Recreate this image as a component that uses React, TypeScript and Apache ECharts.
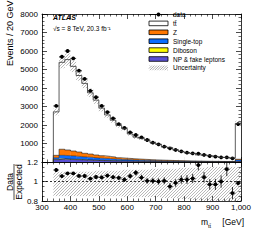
import React, { useEffect, useRef } from "react";
import * as echarts from "echarts";

// ---- data (20 GeV bins, last bin includes overflow) ----
const BIN_LO = [340, 360, 380, 400, 420, 440, 460, 480, 500, 520, 540, 560, 580, 600, 620, 640, 660, 680, 700, 720, 740, 760, 780, 800, 820, 840, 860, 880, 900, 920, 940, 960, 980];
const BIN_WIDTH = 20;
const DATA = [3030, 5690, 6000, 5600, 4940, 4490, 3850, 3500, 3030, 2700, 2360, 2050, 1840, 1600, 1460, 1330, 1190, 1045, 955, 830, 740, 650, 575, 505, 470, 450, 380, 325, 290, 250, 250, 200, 2050];
const TTBAR = [2350, 4700, 4885, 4575, 4135, 3780, 3310, 2965, 2570, 2240, 1990, 1745, 1600, 1330, 1175, 1130, 1050, 920, 850, 730, 695, 585, 497, 435, 402, 337, 321, 297, 265, 219, 194, 202, 1935];
const Z_JETS = [130, 330, 310, 270, 250, 200, 180, 165, 140, 125, 110, 85, 75, 68, 60, 54, 48, 43, 38, 34, 30, 27, 24, 22, 20, 18, 16, 14, 13, 12, 11, 10, 40];
const SINGLE_TOP = [85, 180, 180, 175, 155, 150, 142, 120, 115, 104, 92, 85, 77, 70, 63, 57, 51, 46, 41, 37, 34, 30, 27, 24, 22, 19, 17, 15, 13, 12, 11, 10, 70];
const DIBOSON = [20, 25, 22, 21, 19, 17, 15, 13, 12, 11, 10, 9, 8, 7, 6, 5, 5, 4, 4, 3, 3, 3, 2, 2, 2, 2, 2, 1, 1, 1, 1, 1, 6];
const NP_FAKE = [125, 155, 138, 129, 116, 103, 93, 82, 73, 65, 58, 51, 45, 40, 36, 32, 28, 25, 22, 20, 17, 15, 14, 12, 10, 9, 8, 8, 7, 6, 5, 4, 34];
// relative uncertainty band as drawn in the upper panel
const TOP_UNC = [0.07, 0.06, 0.06, 0.06, 0.06, 0.06, 0.06, 0.06, 0.06, 0.06, 0.06, 0.06, 0.06, 0.06, 0.07, 0.07, 0.07, 0.07, 0.07, 0.07, 0.07, 0.07, 0.08, 0.08, 0.08, 0.08, 0.08, 0.08, 0.08, 0.08, 0.09, 0.09, 0.07];
// ratio-panel uncertainty band
const UNC_UP = [1.10, 1.10, 1.10, 1.10, 1.10, 1.10, 1.10, 1.11, 1.11, 1.11, 1.11, 1.11, 1.12, 1.12, 1.12, 1.12, 1.12, 1.13, 1.13, 1.13, 1.13, 1.13, 1.14, 1.14, 1.14, 1.14, 1.14, 1.15, 1.15, 1.15, 1.15, 1.15, 1.15];
const UNC_DOWN = [0.85, 0.85, 0.85, 0.85, 0.85, 0.85, 0.85, 0.85, 0.85, 0.85, 0.85, 0.85, 0.84, 0.84, 0.84, 0.84, 0.84, 0.84, 0.84, 0.83, 0.83, 0.83, 0.82, 0.82, 0.81, 0.81, 0.80, 0.80, 0.79, 0.79, 0.78, 0.78, 0.78];

const X_MIN = 300, X_MAX = 1000, X_INT = 100;
const Y_MAX = 8000, Y_INT = 1000;
const R_MIN = 0.8, R_MAX = 1.2, R_INT = 0.2;

const LEGEND = [
  { label: "data", kind: "data", color: "#000" },
  { label: "tt\u0304", kind: "box", color: "#ffffff" },
  { label: "Z", kind: "box", color: "#ff7700" },
  { label: "Single-top", kind: "box", color: "#0a6cff" },
  { label: "Diboson", kind: "box", color: "#ffff00" },
  { label: "NP & fake leptons", kind: "box", color: "#5a50d2" },
  { label: "Uncertainty", kind: "hatch", color: "#777" },
];

const FONT = "'Liberation Sans', Arial, Helvetica, sans-serif";

function hatchLines(x0: number, y0: number, x1: number, y1: number, spacing: number, color: string, width: number) {
  const out: any[] = [];
  const cStart = Math.ceil((x0 + y0) / spacing) * spacing;
  for (let c = cStart; c <= x1 + y1; c += spacing) {
    const xa = Math.max(x0, c - y1);
    const xb = Math.min(x1, c - y0);
    if (xb > xa) out.push({ type: "line", shape: { x1: xa, y1: c - xa, x2: xb, y2: c - xb }, style: { stroke: color, lineWidth: width } });
  }
  return out;
}

export default function App() {
  const ref = useRef<HTMLDivElement>(null);
  useEffect(() => {
    if (!ref.current) return;
    const chart = echarts.init(ref.current, undefined, { renderer: "svg" });
    const n = BIN_LO.length;
    const c0 = NP_FAKE.slice();
    const c1 = c0.map((v, i) => v + DIBOSON[i]);
    const c2 = c1.map((v, i) => v + SINGLE_TOP[i]);
    const c3 = c2.map((v, i) => v + Z_JETS[i]);
    const total = c3.map((v, i) => v + TTBAR[i]);
    const zeros = new Array(n).fill(0);

    const layer = (color: string, base: number[], top: number[]) => ({
      type: "custom", xAxisIndex: 0, yAxisIndex: 0, clip: true, silent: true,
      data: BIN_LO.map((lo, i) => [lo, lo + BIN_WIDTH, base[i], top[i]]),
      encode: { x: [0, 1], y: [2, 3] },
      renderItem: (_p: any, api: any) => {
        const a = api.coord([api.value(0), api.value(3)]);
        const b = api.coord([api.value(1), api.value(2)]);
        return { type: "rect", shape: { x: a[0], y: a[1], width: b[0] - a[0] + 0.3, height: b[1] - a[1] }, style: { fill: color } };
      },
    });

    const stepLine = (top: number[], color: string, width: number) => {
      const pts: number[][] = [[BIN_LO[0], 0]];
      BIN_LO.forEach((lo, i) => { pts.push([lo, top[i]]); pts.push([lo + BIN_WIDTH, top[i]]); });
      return {
        type: "line", xAxisIndex: 0, yAxisIndex: 0, data: pts, symbol: "none", silent: true,
        lineStyle: { color, width }, clip: true,
      };
    };

    const band = (xi: number, yi: number, lo: number[], hi: number[], ymin: number, ymax: number) => ({
      type: "custom", xAxisIndex: xi, yAxisIndex: yi, clip: true, silent: true,
      data: BIN_LO.map((b, i) => [b, b + BIN_WIDTH, Math.max(lo[i], ymin), Math.min(hi[i], ymax)]),
      encode: { x: [0, 1], y: [2, 3] },
      renderItem: (_p: any, api: any) => {
        const a = api.coord([api.value(0), api.value(3)]);
        const b = api.coord([api.value(1), api.value(2)]);
        return { type: "group", children: hatchLines(a[0], a[1], b[0], b[1], 3, "#7a7a7a", 0.55) };
      },
    });

    const points = (xi: number, yi: number, vals: number[], errs: number[]) => ({
      type: "custom", xAxisIndex: xi, yAxisIndex: yi, clip: true, silent: true,
      data: BIN_LO.map((b, i) => [b + BIN_WIDTH / 2, vals[i], errs[i]]),
      encode: { x: 0, y: 1 },
      renderItem: (_p: any, api: any) => {
        const x = api.value(0), y = api.value(1), e = api.value(2);
        const c = api.coord([x, y]);
        const l = api.coord([x - BIN_WIDTH / 2, y]);
        const r = api.coord([x + BIN_WIDTH / 2, y]);
        const t = api.coord([x, y + e]);
        const d = api.coord([x, y - e]);
        const st = { stroke: "#000", lineWidth: 0.8 };
        return {
          type: "group", children: [
            { type: "line", shape: { x1: l[0], y1: c[1], x2: r[0], y2: c[1] }, style: st },
            { type: "line", shape: { x1: c[0], y1: t[1], x2: c[0], y2: d[1] }, style: st },
            { type: "circle", shape: { cx: c[0], cy: c[1], r: 1.9 }, style: { fill: "#000" } },
          ],
        };
      },
    });

    const ratio = DATA.map((v, i) => v / total[i]);
    const ratioErr = DATA.map((v, i) => Math.sqrt(v) / total[i]);
    const dataErr = DATA.map((v) => Math.sqrt(v));

    const tickCommon = (labels: boolean, pos: string, grid: number) => ({
      gridIndex: grid, type: "value", position: pos, min: X_MIN, max: X_MAX, interval: X_INT,
      axisLine: { show: true, onZero: false, lineStyle: { color: "#000", width: 0.8 } },
      axisTick: { show: true, inside: true, length: 5, lineStyle: { color: "#000", width: 0.7 } },
      minorTick: { show: true, splitNumber: 5, length: 2.5, lineStyle: { color: "#000", width: 0.6 } },
      splitLine: { show: false },
      axisLabel: { show: labels, color: "#000", fontSize: 8, fontFamily: FONT, margin: 2.5 },
    });

    const yCommon = (grid: number, pos: string, min: number, max: number, interval: number, labels: boolean, fmt: any, minor: number) => ({
      gridIndex: grid, type: "value", position: pos, min, max, interval,
      axisLine: { show: true, onZero: false, lineStyle: { color: "#000", width: 0.8 } },
      axisTick: { show: true, inside: true, length: 5, lineStyle: { color: "#000", width: 0.7 } },
      minorTick: { show: true, splitNumber: minor, length: 2.5, lineStyle: { color: "#000", width: 0.6 } },
      splitLine: { show: false },
      axisLabel: { show: labels, color: "#000", fontSize: 8, fontFamily: FONT, margin: 4, formatter: fmt },
    });

    const legendEls: any[] = [];
    LEGEND.forEach((it, k) => {
      const yc = 14.5 + k * 8.9;
      const x0 = 149, w = 19, h = 4.6;
      if (it.kind === "data") {
        legendEls.push({ type: "line", shape: { x1: x0, y1: yc, x2: x0 + w, y2: yc }, style: { stroke: "#000", lineWidth: 0.8 } });
        legendEls.push({ type: "circle", shape: { cx: x0 + w / 2, cy: yc, r: 1.9 }, style: { fill: "#000" } });
      } else if (it.kind === "box") {
        legendEls.push({ type: "rect", shape: { x: x0, y: yc - h / 2, width: w, height: h }, style: { fill: it.color, stroke: "#000", lineWidth: 0.8 } });
      } else {
        hatchLines(x0, yc - h / 2, x0 + w, yc + h / 2, 2.5, it.color, 0.6).forEach((l) => legendEls.push(l));
      }
      legendEls.push({ type: "text", x: 173, y: yc, style: { text: it.label, fontSize: 6.5, fontFamily: FONT, fill: "#000", textVerticalAlign: "middle", textAlign: "left" } });
    });

    chart.setOption({
      animation: false,
      backgroundColor: "#fff",
      grid: [
        { left: 42, top: 14, width: 199, height: 148 },
        { left: 42, top: 162, width: 199, height: 39 },
      ],
      xAxis: [
        tickCommon(false, "bottom", 0),
        tickCommon(false, "top", 0),
        tickCommon(true, "bottom", 1),
        tickCommon(false, "top", 1),
      ],
      yAxis: [
        yCommon(0, "left", 0, Y_MAX, Y_INT, true, (v: number) => (v === 0 ? "" : String(v)), 5),
        yCommon(0, "right", 0, Y_MAX, Y_INT, false, undefined, 5),
        yCommon(1, "left", R_MIN, R_MAX, R_INT, true, (v: number) => (Math.abs(v - 1) < 1e-6 ? "1" : v.toFixed(1)), 4),
        yCommon(1, "right", R_MIN, R_MAX, R_INT, false, undefined, 4),
      ],
      series: [
        layer("#ffffff", c3, total),
        layer("#ff7700", c2, c3),
        layer("#0a6cff", c1, c2),
        layer("#ffff00", c0, c1),
        layer("#5a50d2", zeros, c0),
        stepLine(c0, "#222", 0.5),
        stepLine(c1, "#222", 0.5),
        stepLine(c2, "#222", 0.5),
        stepLine(c3, "#222", 0.6),
        band(0, 0, total.map((t, i) => t * (1 - TOP_UNC[i])), total.map((t, i) => t * (1 + TOP_UNC[i])), 0, Y_MAX),
        stepLine(total, "#333", 0.8),
        points(0, 0, DATA, dataErr),
        band(2, 2, UNC_DOWN, UNC_UP, R_MIN, R_MAX),
        {
          type: "line", xAxisIndex: 2, yAxisIndex: 2, data: [[X_MIN, 1], [X_MAX, 1]], symbol: "none", silent: true,
          lineStyle: { color: "#000", width: 0.8, type: [2, 2] },
        },
        points(2, 2, ratio, ratioErr),
      ],
      graphic: [
        { type: "text", x: 10, y: 0.5, rotation: Math.PI / 2, style: { text: "Events / 20 GeV", fontSize: 9, fontFamily: FONT, fill: "#000", textAlign: "right", textVerticalAlign: "middle" } },
        { type: "text", x: 9.5, y: 182, rotation: Math.PI / 2, style: { text: "Data", fontSize: 8.5, fontFamily: FONT, fill: "#000", textAlign: "center", textVerticalAlign: "middle" } },
        { type: "line", shape: { x1: 14, y1: 164, x2: 14, y2: 200 }, style: { stroke: "#000", lineWidth: 0.7 } },
        { type: "text", x: 19, y: 182, rotation: Math.PI / 2, style: { text: "Expected", fontSize: 8.5, fontFamily: FONT, fill: "#000", textAlign: "center", textVerticalAlign: "middle" } },
        { type: "text", x: 53, y: 17, style: { text: "ATLAS", fontSize: 7, fontWeight: "bold", fontStyle: "italic", fontFamily: FONT, fill: "#000", textVerticalAlign: "middle" } },
        { type: "text", x: 53, y: 28, style: { text: "\u221As = 8 TeV, 20.3 fb\u207B\u00B9", fontSize: 6.5, fontFamily: FONT, fill: "#000", textVerticalAlign: "middle" } },
        { type: "text", x: 201, y: 222, style: { text: "m", fontSize: 8.5, fontFamily: FONT, fill: "#000", textVerticalAlign: "middle" } },
        { type: "text", x: 208, y: 225.5, style: { text: "tt\u0304", fontSize: 5.5, fontFamily: FONT, fill: "#000", textVerticalAlign: "middle" } },
        { type: "text", x: 244, y: 222, style: { text: "[GeV]", fontSize: 8.5, fontFamily: FONT, fill: "#000", textVerticalAlign: "middle", textAlign: "right" } },
        ...legendEls,
      ],
    });
    return () => chart.dispose();
  }, []);
  return <div ref={ref} style={{ position: "absolute", left: 0, top: 0, width: 262, height: 249 }} />;
}
